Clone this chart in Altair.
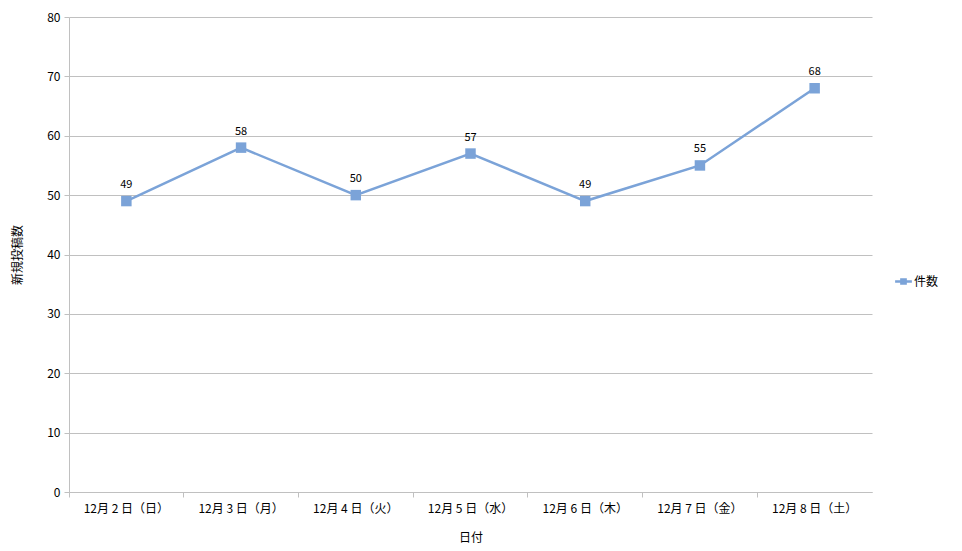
import altair as alt
import pandas as pd

dates = ["12月 2 日（日）", "12月 3 日（月）", "12月 4 日（火）", "12月 5 日（水）",
         "12月 6 日（木）", "12月 7 日（金）", "12月 8 日（土）"]
counts = [49, 58, 50, 57, 49, 55, 68]
series = ["件数"] * len(dates)

df = pd.DataFrame({"日付": dates, "件数": counts, "系列": series})

FONT = "Noto Sans CJK JP"
COLOR = "#7ba3d8"

x = alt.X("日付:N", sort=dates, title="日付", bandPosition=0.5,
          scale=alt.Scale(type="band", paddingInner=0, paddingOuter=0),
          axis=alt.Axis(labelAngle=0, bandPosition=0, ticks=True, tickSize=5,
                        tickColor="#c0c0c0", domainColor="#c0c0c0", grid=False,
                        labelFontSize=12, labelColor="#000", titleFontSize=12,
                        titleFontWeight="normal", titleColor="#000", labelPadding=6,
                        titlePadding=18, labelFont=FONT, titleFont=FONT))
y = alt.Y("件数:Q", scale=alt.Scale(domain=[0, 80], nice=False), title="新規投稿数",
          axis=alt.Axis(values=list(range(0, 81, 10)), tickSize=5, tickColor="#c0c0c0",
                        domainColor="#c0c0c0", gridColor="#c0c0c0", labelFontSize=12,
                        labelColor="#000", titleFontSize=12, titleFontWeight="normal",
                        titleColor="#000", labelPadding=4, titlePadding=22,
                        labelFont=FONT, titleFont=FONT))

color = alt.Color("系列:N", scale=alt.Scale(range=[COLOR]),
                  legend=alt.Legend(title=None, orient="none", legendX=828, legendY=258,
                                    symbolType="M-1.6,0H1.6M-0.4,-0.4H0.4V0.4H-0.4Z",
                                    symbolFillColor=COLOR, symbolStrokeColor=COLOR,
                                    symbolStrokeWidth=2.5, symbolSize=110,
                                    labelFontSize=12, labelFont=FONT, labelColor="#000",
                                    labelOffset=4))

base = alt.Chart(df).encode(x=x, y=y)
line = base.mark_line(strokeWidth=2.5).encode(color=color)
pts = base.mark_point(shape="square", filled=True, size=110, opacity=1, color=COLOR)
labels = base.mark_text(dy=-16, fontSize=11, font=FONT, color="#000").encode(text="件数:Q")

chart = alt.layer(line, pts, labels).properties(
    width=803, height=475,
    autosize=alt.AutoSizeParams(type="none"),
    padding={"left": 61, "top": 9, "right": 80, "bottom": 58},
).configure_view(stroke=None).configure_axis(domainWidth=1)

chart.save("out.html", embed_options={"renderer": "svg", "actions": False})
